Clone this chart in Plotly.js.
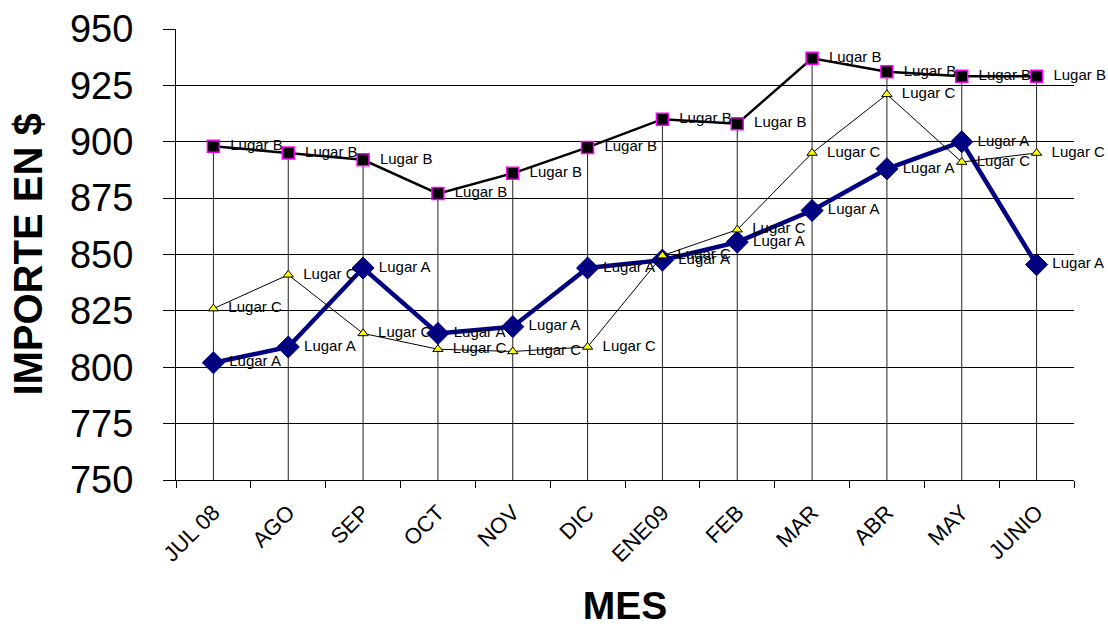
<!DOCTYPE html>
<html>
<head>
<meta charset="utf-8">
<script src="https://cdn.plot.ly/plotly-3.0.1.min.js"></script>
<style>
html,body{margin:0;padding:0;background:#fff;}
#chart{width:1108px;height:627px;}
</style>
</head>
<body>
<div id="chart"></div>
<script>
const months = ['JUL 08','AGO','SEP','OCT','NOV','DIC','ENE09','FEB','MAR','ABR','MAY','JUNIO'];
const lugarA = [802, 809, 844, 815, 818, 844, 847.5, 855.5, 869.5, 888, 900, 845.5];
const lugarB = [898, 895, 892, 877, 886, 897.5, 910, 908, 937, 931, 929, 929];
const lugarC = [826, 841, 815, 808, 807, 809, 849.5, 861, 895, 921, 891, 895];
const yTicks = [750, 775, 800, 825, 850, 875, 900, 925, 950];
const yMin = 750, yMax = 950;

const FONT = 'Arial, "Liberation Sans", sans-serif';

// drop lines from highest point of each month down to the axis
const dropX = [], dropY = [];
months.forEach((m, i) => {
  const top = Math.max(lugarA[i], lugarB[i], lugarC[i]);
  dropX.push(m, m, null);
  dropY.push(top, yMin, null);
});

const drop = {
  x: dropX, y: dropY, type: 'scatter', mode: 'lines',
  line: {color: '#222', width: 1}, hoverinfo: 'skip', showlegend: false
};

function series(vals, name, pad, line, marker) {
  return {
    x: months, y: vals, type: 'scatter', mode: 'lines+markers+text',
    name: name, text: vals.map(() => pad + name), textposition: 'middle right',
    textfont: {family: FONT, size: 15, color: '#000'},
    line: line, marker: marker, showlegend: false, cliponaxis: false
  };
}

const trA = series(lugarA, 'Lugar A', '\u00A0', {color: '#000080', width: 4.5},
  {symbol: 'diamond', size: 17, color: '#000080', line: {color: '#000080', width: 1}});
const trB = series(lugarB, 'Lugar B', '\u00A0\u00A0', {color: '#000', width: 2.5},
  {symbol: 'square', size: 12, color: '#000', line: {color: '#FF00FF', width: 1.5}});
const trC = series(lugarC, 'Lugar C', '\u00A0\u00A0', {color: '#000', width: 1},
  {symbol: 'triangle-up', size: 9, color: '#FFFF00', line: {color: '#000', width: 1}});

const layout = {
  width: 1108, height: 627,
  margin: {l: 176, r: 34, t: 29, b: 147},
  paper_bgcolor: '#fff', plot_bgcolor: '#fff',
  font: {family: FONT, color: '#000'},
  xaxis: {
    type: 'category', tickson: 'boundaries', showgrid: false,
    showline: true, linecolor: '#000', linewidth: 1,
    ticks: 'outside', ticklen: 7, tickcolor: '#000', tickwidth: 1,
    tickangle: -45, tickfont: {family: FONT, size: 22, color: '#000'},
    ticklabelstandoff: 10,
    title: {text: '<b>MES</b>', font: {family: FONT, size: 39, color: '#000'}, standoff: 46},
    range: [-0.5, 11.5], zeroline: false, fixedrange: true
  },
  yaxis: {
    range: [yMin, yMax], tickvals: yTicks, ticktext: yTicks.map(String),
    showgrid: true, gridcolor: '#000', gridwidth: 1,
    showline: true, linecolor: '#000', linewidth: 1,
    ticks: 'outside', ticklen: 12, tickcolor: '#000', tickwidth: 1,
    tickfont: {family: FONT, size: 38, color: '#000'},
    ticklabelstandoff: 22,
    title: {text: '<b>IMPORTE EN $</b>', font: {family: FONT, size: 40, color: '#000'}, standoff: 14},
    zeroline: false, fixedrange: true
  }
};

Plotly.newPlot('chart', [drop, trA, trB, trC], layout, {displayModeBar: false, staticPlot: true});
</script>
</body>
</html>
